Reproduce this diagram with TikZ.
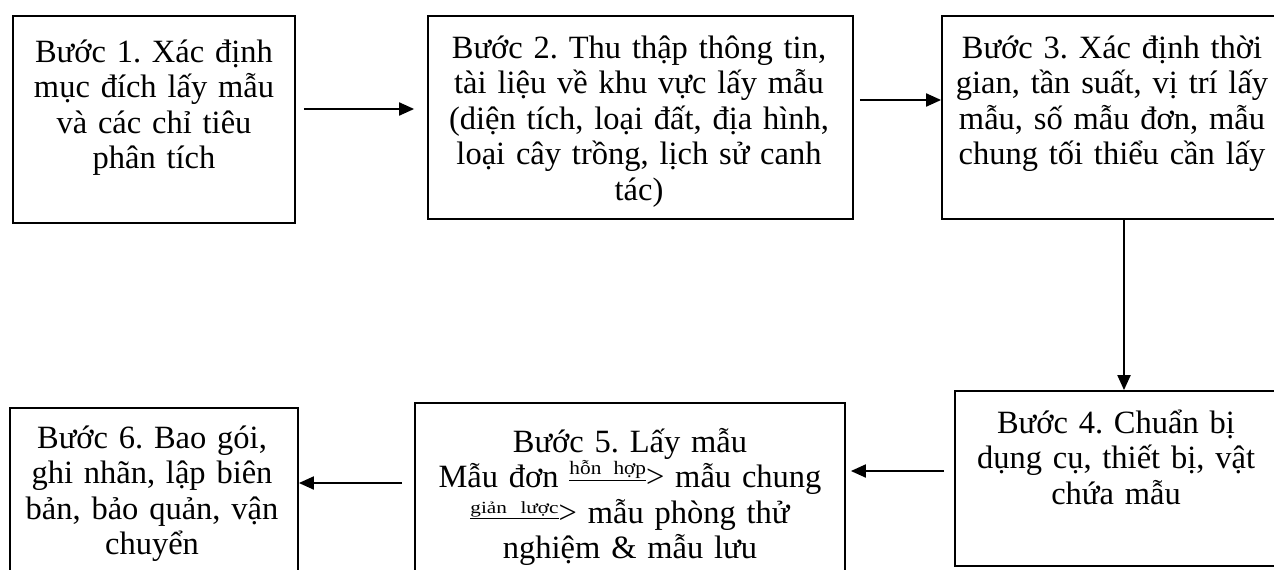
\documentclass[tikz,border=0pt]{standalone}
\usepackage{fontspec}
\setmainfont{Liberation Serif}
\usetikzlibrary{arrows.meta}
\newcommand{\smallarrowtext}[3]{\underline{\scalebox{#2}[1]{\fontsize{#1}{#1}\selectfont #3}}}
\begin{document}
\frenchspacing
\begin{tikzpicture}[x=1pt,y=-1pt,
  box/.style={draw, line width=1.8pt, inner sep=0pt},
  txt/.style={align=center, inner sep=0pt, anchor=base, text width=#1, font=\fontsize{32.5}{35.5}\selectfont\frenchspacing},
  conn/.style={line width=2pt, -{Triangle[length=15pt,width=13pt]}}]
\useasboundingbox (0,0) rectangle (1274,570);
\clip (0,0) rectangle (1274,570);
\fill[white] (0,0) rectangle (1274,570);
% boxes
\node[box, minimum width=282pt, minimum height=207pt] (b1) at (154,119.5) {};
\node[box, minimum width=425pt, minimum height=203pt] (b2) at (640.5,117.5) {};
\node[box, minimum width=348pt, minimum height=203pt] (b3) at (1116,117.5) {};
\node[box, minimum width=335pt, minimum height=175pt] (b4) at (1122.5,478.5) {};
\node[box, minimum width=430pt, minimum height=187pt] (b5) at (630,496.5) {};
\node[box, minimum width=288pt, minimum height=182pt] (b6) at (154,499) {};
% texts
\node[txt=300pt] (t1) at (154,62) {Bước 1. Xác định\\mục đích lấy mẫu\\và các chỉ tiêu\\phân tích};
\node[txt=440pt] (t2) at (639,58) {Bước 2. Thu thập thông tin,\\tài liệu về khu vực lấy mẫu\\(diện tích, loại đất, địa hình,\\loại cây trồng, lịch sử canh\\tác)};
\node[txt=360pt] (t3) at (1112,58) {Bước 3. Xác định thời\\gian, tần suất, vị trí lấy\\mẫu, số mẫu đơn, mẫu\\chung tối thiểu cần lấy};
\node[txt=340pt] (t4) at (1116,433) {Bước 4. Chuẩn bị\\dụng cụ, thiết bị, vật\\chứa mẫu};
\node[txt=440pt] (t5) at (630,452) {Bước 5. Lấy mẫu\\Mẫu đơn \raisebox{13pt}{\smallarrowtext{19}{1.12}{hỗn hợp}}> mẫu chung\\\raisebox{10pt}{\smallarrowtext{17}{1.25}{giản lược}}> mẫu phòng thử\\nghiệm \& mẫu lưu};
\node[txt=300pt] (t6) at (152,448) {Bước 6. Bao gói,\\ghi nhãn, lập biên\\bản, bảo quản, vận\\chuyển};
% connectors
\draw[conn, shorten <=8pt, shorten >=13pt] ([yshift=10.5pt]b1.east) -- ([yshift=8.5pt]b2.west);
\draw[conn, shorten <=6pt] ([yshift=17.5pt]b2.east) -- ([yshift=17.5pt]b3.west);
\draw[conn] ([xshift=8pt]b3.south) -- ([xshift=1.5pt]b4.north);
\draw[conn, shorten <=10pt, shorten >=5pt] ([yshift=7.5pt]b4.west) -- ([yshift=25.5pt]b5.east);
\draw[conn, shorten <=12pt] ([yshift=13.5pt]b5.west) -- ([yshift=16pt]b6.east);
\end{tikzpicture}
\end{document}
